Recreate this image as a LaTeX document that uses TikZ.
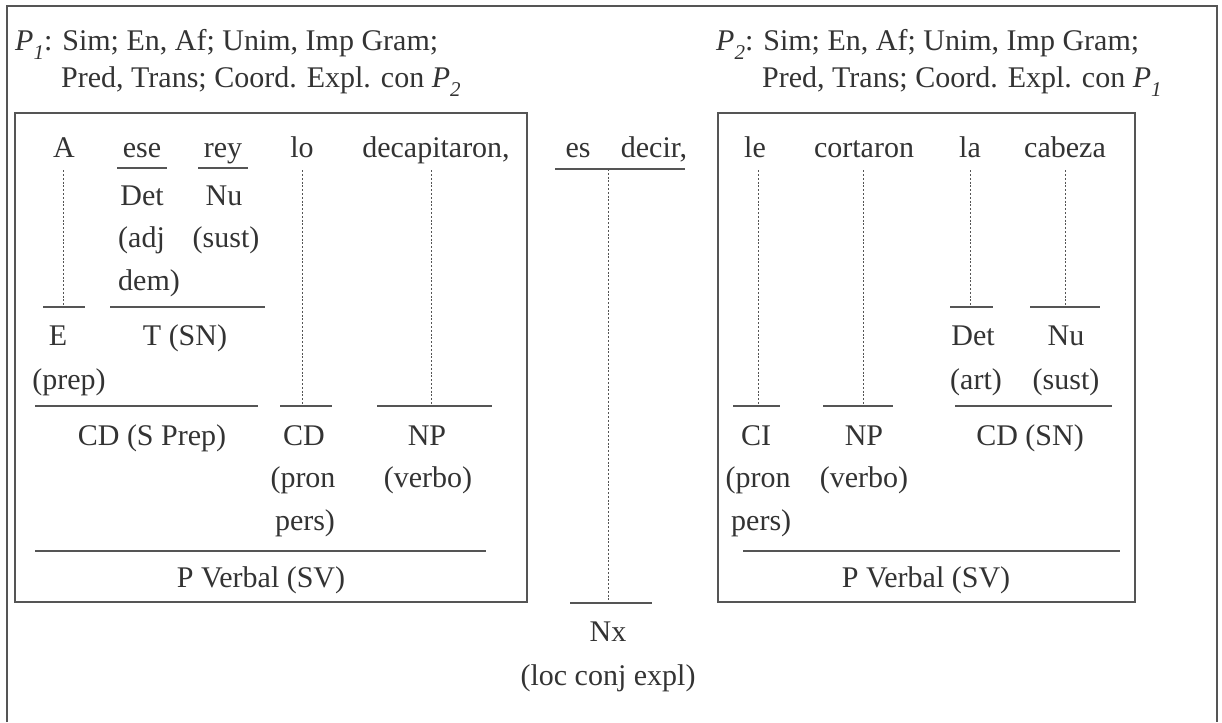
\documentclass[tikz,border=0pt]{standalone}
\usepackage{fontspec}
\setmainfont{Liberation Serif}
\definecolor{tc}{HTML}{333333}
\definecolor{lc}{HTML}{555555}
\newcommand\Pix[1]{\textit{P}\raisebox{-0.28em}{\fontsize{21}{21}\selectfont\textit{#1}}}
\begin{document}
\begin{tikzpicture}[x=1pt,y=-1pt,
  t/.style={inner sep=0pt, anchor=base, text=tc, text depth=0pt, font=\fontsize{30}{36}\selectfont},
  tl/.style={t, anchor=base west},
  bar/.style={draw=lc, line width=1.2pt},
  dots/.style={draw=lc, line width=0.9pt, dash pattern=on 2pt off 1.8pt, shorten <=12pt},
  frame/.style={draw=lc, line width=1.3pt}]
\useasboundingbox (0,0) rectangle (1222,722);
% outer frame
\draw[frame] (7,722) -- (7,6) -- (1217,6) -- (1217,722);
% boxes
\draw[frame] (15,113) rectangle (527,602);
\draw[frame] (718,113) rectangle (1135,602);
% headers
\node[tl] (h1) at (15,51) {\Pix{1}: Sim; En, Af; Unim, Imp Gram;};
\node[tl] (h2) at (61,88) {Pred, Trans; Coord. Expl. con \Pix{2}};
\node[tl] (h3) at (716,51) {\Pix{2}: Sim; En, Af; Unim, Imp Gram;};
\node[tl] (h4) at (762,88) {Pred, Trans; Coord. Expl. con \Pix{1}};
% ---------- left box ----------
\node[t] (wA) at (64,158) {A};
\node[t] (wese) at (142,158) {ese};
\node[t] (wrey) at (223,158) {rey};
\node[t] (wlo) at (302,158) {lo};
\node[t] (wdec) at (436,158) {decapitaron,};
\coordinate (uese1) at (117,168); \coordinate (uese2) at (167,168);
\coordinate (urey1) at (198,168); \coordinate (urey2) at (248,168);
\draw[bar] (uese1) -- (uese2);
\draw[bar] (urey1) -- (urey2);
\node[t] (det1) at (142,205) {Det};
\node[t] (nu1) at (224,205) {Nu};
\node[tl] (adj) at (118,247) {(adj};
\node[t] (sust1) at (226,247) {(sust)};
\node[tl] (dem) at (118,290) {dem)};
% bars at 307
\coordinate (e1) at (43,307); \coordinate (e2) at (85,307); \coordinate (eA) at (63,307);
\coordinate (ts1) at (110,307); \coordinate (ts2) at (265,307);
\draw[bar] (e1) -- (e2);
\draw[bar] (ts1) -- (ts2);
\draw[dots] (wA.south -| eA) -- (eA);
\node[t] (E) at (58,345) {E};
\node[t] (TSN) at (185,345) {T (SN)};
\node[t] (prep) at (69,389) {(prep)};
% bars at 406
\coordinate (cd1) at (35,406); \coordinate (cd2) at (258,406);
\coordinate (lo1) at (280,406); \coordinate (lo2) at (332,406); \coordinate (loc) at (302,406);
\coordinate (np1) at (377,406); \coordinate (np2) at (492,406); \coordinate (npc) at (431,406);
\draw[bar] (cd1) -- (cd2);
\draw[bar] (lo1) -- (lo2);
\draw[bar] (np1) -- (np2);
\draw[dots] (wlo.south -| loc) -- (loc);
\draw[dots] (wdec.south -| npc) -- (npc);
\node[t] (CDSP) at (152,445) {CD (S Prep)};
\node[t] (CD1) at (304,445) {CD};
\node[t] (NP1) at (427,445) {NP};
\node[t] (pron1) at (303,487) {(pron};
\node[t] (verbo1) at (428,487) {(verbo)};
\node[t] (pers1) at (305,530) {pers)};
\coordinate (pv1) at (35,551); \coordinate (pv2) at (486,551);
\draw[bar] (pv1) -- (pv2);
\node[t] (PV1) at (261,587) {P Verbal (SV)};
% ---------- middle ----------
\node[t] (es) at (578,158) {es};
\node[t] (decir) at (654,158) {decir,};
\coordinate (ed1) at (555,169); \coordinate (ed2) at (685,169); \coordinate (edc) at (608,169);
\draw[bar] (ed1) -- (ed2);
\coordinate (nx1) at (570,603); \coordinate (nx2) at (652,603); \coordinate (nxc) at (608,603);
\draw[bar] (nx1) -- (nx2);
\draw[dots, shorten <=0pt] (edc) -- (nxc);
\node[t] (Nx) at (608,641) {Nx};
\node[t] (locx) at (608,685) {(loc conj expl)};
% ---------- right box ----------
\node[t] (wle) at (755,158) {le};
\node[t] (wcor) at (864,158) {cortaron};
\node[t] (wla) at (970,158) {la};
\node[t] (wcab) at (1065,158) {cabeza};
\coordinate (la1) at (950,307); \coordinate (la2) at (993,307); \coordinate (lac) at (970,307);
\coordinate (cb1) at (1030,307); \coordinate (cb2) at (1100,307); \coordinate (cbc) at (1065,307);
\draw[bar] (la1) -- (la2);
\draw[bar] (cb1) -- (cb2);
\draw[dots] (wla.south -| lac) -- (lac);
\draw[dots] (wcab.south -| cbc) -- (cbc);
\node[t] (det2) at (973,345) {Det};
\node[t] (nu2) at (1066,345) {Nu};
\node[t] (art) at (976,389) {(art)};
\node[t] (sust2) at (1066,389) {(sust)};
\coordinate (le1) at (733,406); \coordinate (le2) at (780,406); \coordinate (lec) at (758,406);
\coordinate (co1) at (823,406); \coordinate (co2) at (893,406); \coordinate (coc) at (863,406);
\coordinate (sn1) at (955,406); \coordinate (sn2) at (1112,406);
\draw[bar] (le1) -- (le2);
\draw[bar] (co1) -- (co2);
\draw[bar] (sn1) -- (sn2);
\draw[dots] (wle.south -| lec) -- (lec);
\draw[dots] (wcor.south -| coc) -- (coc);
\node[t] (CI) at (756,445) {CI};
\node[t] (NP2) at (864,445) {NP};
\node[t] (CDSN) at (1030,445) {CD (SN)};
\node[t] (pron2) at (758,487) {(pron};
\node[t] (verbo2) at (864,487) {(verbo)};
\node[tl] (pers2) at (731,530) {pers)};
\coordinate (pv3) at (743,551); \coordinate (pv4) at (1120,551);
\draw[bar] (pv3) -- (pv4);
\node[t] (PV2) at (926,587) {P Verbal (SV)};
\end{tikzpicture}
\end{document}
